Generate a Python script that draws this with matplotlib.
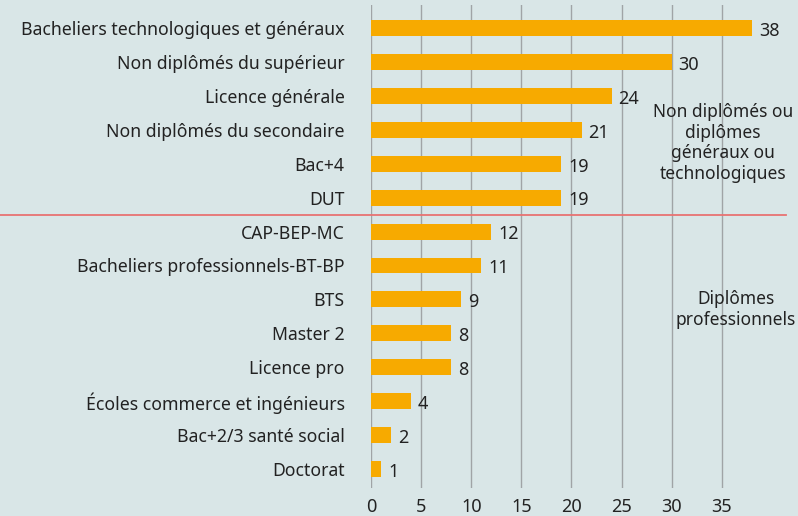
import numpy as np
import matplotlib.pyplot as plt

categories = ['Bacheliers technologiques et généraux', 'Non diplômés du supérieur',
              'Licence générale', 'Non diplômés du secondaire', 'Bac+4', 'DUT',
              'CAP-BEP-MC', 'Bacheliers professionnels-BT-BP', 'BTS', 'Master 2',
              'Licence pro', 'Écoles commerce et ingénieurs', 'Bac+2/3 santé social',
              'Doctorat']
values = [38, 30, 24, 21, 19, 19, 12, 11, 9, 8, 8, 4, 2, 1]
group_labels = ['Non diplômés ou\ndiplômes\ngénéraux ou\ntechnologiques',
                'Diplômes\nprofessionnels']

bg = '#d9e6e7'
bar_color = '#f7aa00'
text_color = '#222222'

plt.rcParams['font.family'] = ['Noto Sans', 'DejaVu Sans']

fig = plt.figure(figsize=(7.98, 5.16), dpi=100, facecolor=bg)
ax = fig.add_axes([371 / 798, 1 - 488 / 516, (792 - 371) / 798, (488 - 5) / 516])
ax.set_facecolor(bg)

y = np.arange(len(categories))
ax.barh(y, values, height=0.47, color=bar_color, zorder=3)

for yi, v in zip(y, values):
    ax.annotate(str(v), (v, yi), xytext=(5, -2), textcoords='offset points',
                va='center', ha='left', fontsize=13, color=text_color)

ax.set_xlim(0, 42)
ax.set_ylim(13.56, -0.68)
ax.set_xticks(np.arange(0, 36, 5))
ax.set_yticks(y)
ax.set_yticklabels(categories)
ax.tick_params(axis='y', length=0, pad=19, labelsize=12.7, labelcolor=text_color)
ax.tick_params(axis='x', length=0, pad=7, labelsize=13, labelcolor=text_color)
ax.grid(axis='x', color='#a0a4a6', linewidth=1, zorder=0)
for s in ax.spines.values():
    s.set_visible(False)

# separator between the two groups
ax.plot([-37, 41.4], [5.5, 5.5], color='#e87272', linewidth=1.3, clip_on=False, zorder=4)

ax.text(35.1, 3.39, group_labels[0], ha='center', va='center', fontsize=12.5,
        color=text_color, linespacing=1.2)
ax.text(36.4, 8.29, group_labels[1], ha='center', va='center', fontsize=12.5,
        color=text_color, linespacing=1.2)

fig.savefig('out.png', dpi=100, facecolor=bg)
